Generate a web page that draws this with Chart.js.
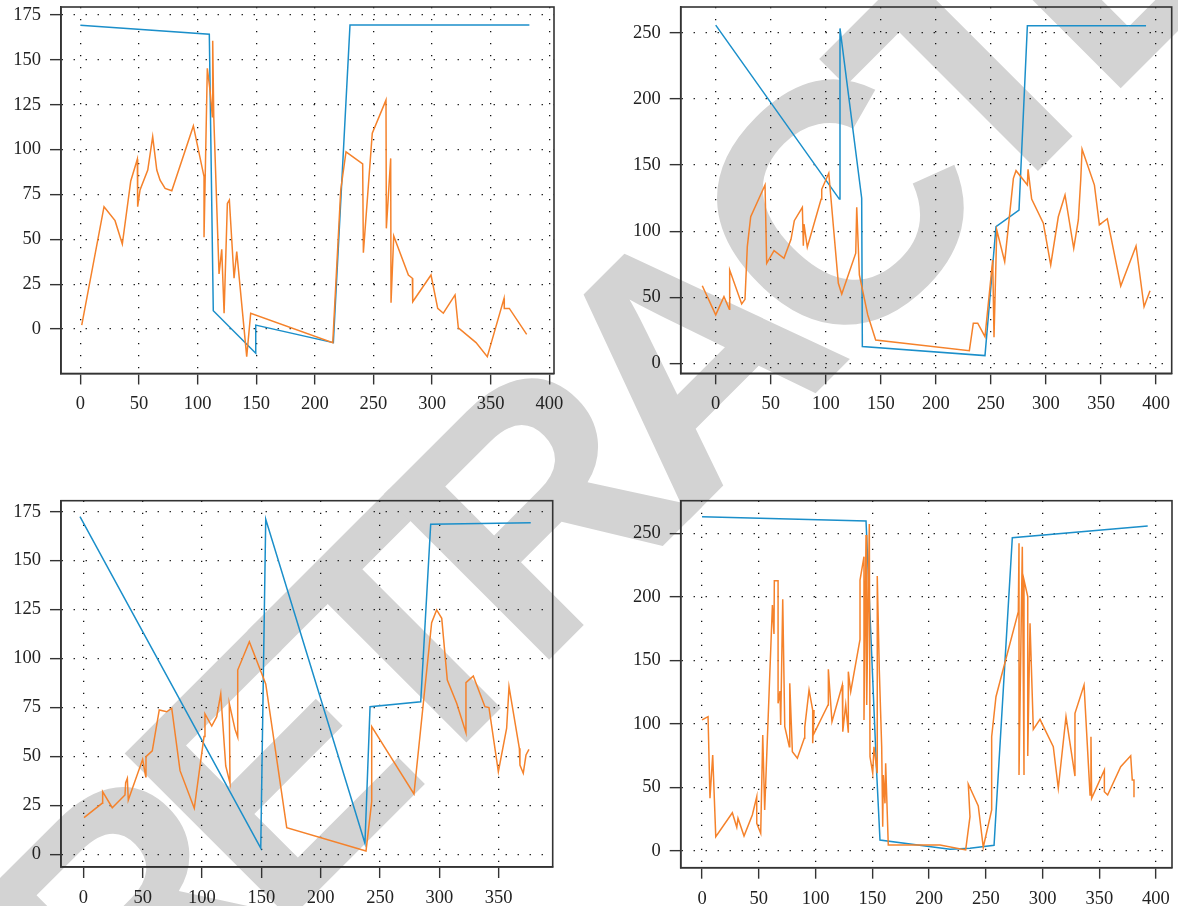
<!DOCTYPE html>
<html>
<head>
<meta charset="utf-8">
<script src="https://cdn.jsdelivr.net/npm/chart.js@4.4.1/dist/chart.umd.min.js"></script>
<style>
  html, body { margin: 0; padding: 0; background: #fff; }
  body { width: 1178px; height: 906px; position: relative; overflow: hidden; }
  .wm {
    position: absolute; left: 674px; top: 368px;
    transform: translate(-50%, -50%) rotate(-45deg);
    font: bold 340px "Liberation Sans", Arial, sans-serif;
    letter-spacing: -34px;
    line-height: 1; color: #d3d3d3; white-space: nowrap; z-index: 0;
  }
  canvas { position: absolute; z-index: 1; }
</style>
</head>
<body>
<div class="wm">RETRACTED</div>
<canvas id="c1" width="590" height="440" style="left:0;top:0"></canvas>
<canvas id="c2" width="578" height="440" style="left:600px;top:0"></canvas>
<canvas id="c3" width="590" height="436" style="left:0;top:470px"></canvas>
<canvas id="c4" width="578" height="436" style="left:600px;top:470px"></canvas>
<script>
// top-left panel
const tlBlueX = [0, 110, 113.4, 149.6, 149.6, 215.8, 230, 383];
const tlBlueY = [169.3, 164.3, 10.2, -13.5, 2.2, -7.6, 169.5, 169.5];
const tlOrangeX = [1.2, 20.2, 29.6, 35.8, 43, 48.6, 48.9, 50.9, 57.5, 61.7, 65.2, 68, 72.3, 78, 96.4, 105.5, 105.5, 108.3, 110.6, 112.6,
  112.9, 113.8, 118.3, 120.6, 122.6, 125.4, 127.1, 131.1, 133.4, 141.9, 145.3, 215.3, 222.1, 226.6, 240.8, 241.4, 249, 260.7, 261, 264.7,
  265, 267.3, 279.8, 283.2, 283.5, 299.1, 304.8, 309.6, 319.6, 322.4, 337.5, 347.1, 361.4, 361.6, 365.9, 380.7];
const tlOrangeY = [2.2, 68.2, 60.4, 47.4, 82.5, 94.6, 68.2, 77.5, 88.6, 107.2, 88.6, 83, 78.4, 77.1, 113.2, 84.9, 51.1, 145.3, 133.2, 118.3,
  160.7, 118.3, 30.7, 44.4, 8.8, 70, 71.9, 28.3, 43.1, -15.4, 8.8, -7.6, 77.5, 98.8, 92, 42.5, 109.1, 127.6, 56.1, 95.1,
  14.7, 51.8, 30.1, 28.3, 15.2, 30.1, 11.5, 8.8, 19, 0.7, -7.6, -15.4, 17.1, 11.5, 11.5, -3];

// top-right panel
const trBlueX = [0, 112.3, 112.9, 132.6, 133.2, 244.6, 254.6, 275.5, 283.1, 390.9];
const trBlueY = [256, 124.3, 253.5, 124.9, 12.6, 5.8, 103.4, 116, 255.5, 255.5];
const trOrangeX = [-12.2, 0, 7.5, 12.4, 12.7, 23.6, 26.6, 28.7, 31.8, 44.8, 46.3, 53, 62, 68.4, 71.4, 78.7, 79.6, 80.2, 83.2, 95.7,
  96.3, 102.7, 111.4, 114.5, 127.2, 128.1, 130.5, 138.1, 145.3, 230.4, 234, 238, 244.6, 251.6, 252.8, 255.3, 262.5, 270.4, 272.8, 283.1,
  283.7, 287, 297.6, 304.3, 311.2, 317.3, 325.2, 329.4, 331.6, 332.8, 344, 348.5, 355.7, 367.9, 381.8, 389.1, 394.5];
const trOrangeY = [58.7, 36.6, 50.4, 40.9, 70.6, 44.9, 48.4, 88.3, 110.9, 134.9, 75.7, 85.2, 79.5, 93.8, 107.9, 118.1, 89, 105.4, 87.8, 124.1,
  131.7, 143.8, 60.5, 52.4, 83.3, 118.1, 66.8, 36.6, 17.6, 9.5, 30.3, 30.3, 20.1, 78.2, 19.7, 100.9, 76.9, 140, 145.8, 134.9,
  146.8, 124.3, 106, 74.4, 110.9, 127.4, 87, 108.5, 139.3, 162, 134.9, 104.7, 109.4, 58.5, 88.8, 42.8, 54.9];

// bottom-left panel
const blBlueX = [-2.8, 149.5, 153.7, 237.3, 241.6, 284.3, 292.7, 377];
const blBlueY = [172.5, 3.1, 171.1, 5.6, 75.4, 77.9, 168.6, 169.4];
const blOrangeX = [0.6, 15.8, 16.3, 24.4, 35.1, 35.7, 37.1, 37.9, 50, 52.6, 52.8, 58.1, 64, 70.3, 74.5, 81.5, 93.5, 101.7, 102.5, 108.2,
  112.4, 115.8, 120, 123.6, 123, 127.8, 130.1, 130.1, 139.9, 153.7, 171.4, 238.2, 243, 243, 278.6, 293.5, 297.7, 302, 306.7, 314.6,
  322.4, 322.4, 328.6, 338.4, 341.8, 349.7, 356.7, 358.7, 367.4, 367.9, 370.7, 373, 375.5];
const blOrangeY = [18.7, 26, 32, 23.8, 30.3, 36.6, 38.8, 27.7, 48.5, 39.6, 49.9, 52.8, 73.7, 72.8, 74.6, 42.7, 23.5, 60.1, 71.7, 65.5,
  70.3, 81.9, 45.1, 36.3, 77.1, 63.9, 59.8, 94.1, 108.6, 87, 13.6, 1.7, 26.9, 65.2, 30.8, 118.3, 124.8, 120.5, 89, 77.1,
  62.1, 87.7, 91.1, 75.4, 74.9, 42.2, 64.4, 85.6, 54.1, 45.6, 41.4, 50.7, 53.6];

// bottom-right panel
const brBlueX = [0, 144.5, 153.9, 156.8, 218.5, 236.1, 257.3, 273.4, 392.7];
const brBlueY = [263.1, 259.7, 61, 8.4, 1.1, 1.9, 4.3, 246.6, 255.8];
const brOrangeX = [0, 5.3, 7, 9.4, 12.1, 26.7, 30.6, 31.7, 37, 44.3, 48.2, 48.2, 51.7, 53.5, 55.2, 62, 63.4, 63.7, 67, 67,
  68.7, 69.3, 71.1, 72.9, 76.9, 77.3, 79.6, 84, 90.1, 90.5, 94.3, 97.5, 97.5, 98.7, 98, 111, 111.3, 114.5, 123.6, 124,
  126.6, 128.9, 128.9, 131, 139.2, 139.2, 142.7, 142.7, 144.5, 145.1, 147.4, 148, 150.4, 151.5, 154.4, 154.4, 156.2, 158.3, 159.2, 159.7,
  161.2, 161.8, 164.1, 209.7, 232.3, 236.1, 234.6, 243.4, 247.8, 255.2, 255.2, 259, 278.7, 279.3, 279.3, 282.2, 283.7, 283.7, 287, 287,
  289, 291.9, 297.8, 309.5, 313.9, 320.7, 328.6, 328.6, 336.6, 341.9, 342.7, 343.3, 354.5, 354.5, 357.4, 368.9, 377.7, 379.1, 380.6, 380.6];
const brOrangeY = [103, 105.6, 41.3, 75.4, 11, 29.9, 18.4, 25.5, 11.6, 28.1, 42.5, 21.6, 13.7, 91.1, 32.1, 193.5, 170.7, 212.7, 212.7, 116.1,
  125.8, 99, 198, 97.7, 81.9, 131.9, 78, 72.8, 88.5, 97.2, 126.6, 110.8, 84.6, 110.8, 91.1, 114.8, 142.9, 101.6, 130.5, 93.7,
  114.8, 92.9, 141, 125.2, 166.5, 213.2, 231.6, 103, 248.7, 114.8, 257.3, 74, 61, 81.9, 61, 216.4, 142.3, 81.9, 18.9, 59.6,
  37.3, 68.8, 4.5, 4.5, 0.6, 26.8, 52.5, 35.2, 2.7, 32.1, 89.8, 121.3, 188.3, 242.1, 59.6, 239.5, 59.6, 213.2, 200.1, 74.6,
  179.1, 95.6, 103.5, 81.9, 49.2, 105.6, 58.8, 108.2, 130.5, 43.9, 89.8, 41.3, 63.6, 46.5, 43.9, 66.2, 74.8, 55.7, 55.7, 42.1];

const BLUE = '#1b8fca';
const ORANGE = '#f5822b';
const tickFont = { family: '"Liberation Serif", "Times New Roman", serif', size: 18.5 };

function pts(xs, ys) {
  return xs.map((x, i) => ({ x: x, y: ys[i] }));
}

// box around the plot area (top and right sides are missing otherwise)
const framePlugin = {
  id: 'frame',
  afterDatasetsDraw(chart) {
    const a = chart.chartArea;
    const ctx = chart.ctx;
    ctx.save();
    ctx.strokeStyle = '#333';
    ctx.lineWidth = 1.6;
    ctx.strokeRect(a.left, a.top, a.right - a.left, a.bottom - a.top);
    ctx.restore();
  }
};

function axis(min, max, step, fit) {
  return {
    type: 'linear', min: min, max: max,
    grid: { color: '#111', lineWidth: 1.3, tickLength: 11, tickColor: '#333', tickWidth: 1.4 },
    border: { display: true, color: '#333', width: 1.6, dash: [1.3, 10.7] },
    ticks: { stepSize: step, includeBounds: false, font: tickFont, color: '#222', padding: 9, maxRotation: 0, autoSkip: false },
    afterFit: fit
  };
}

function panel(id, canvasBox, frame, xr, yr, yStep, blue, orange) {
  const yw = frame.l - canvasBox.left;
  const xh = canvasBox.top + canvasBox.height - frame.b;
  new Chart(document.getElementById(id), {
    type: 'scatter',
    data: {
      datasets: [
        { data: orange, showLine: true, borderColor: ORANGE, borderWidth: 1.5, pointRadius: 0, fill: false },
        { data: blue, showLine: true, borderColor: BLUE, borderWidth: 1.5, pointRadius: 0, fill: false }
      ]
    },
    options: {
      responsive: false,
      animation: false,
      layout: { padding: { left: 0, top: frame.t - canvasBox.top, right: canvasBox.left + canvasBox.width - frame.r, bottom: 0 } },
      plugins: { legend: { display: false }, tooltip: { enabled: false } },
      scales: {
        x: axis(xr[0], xr[1], 50, s => { s.height = xh; s.paddingLeft = 0; s.paddingRight = 0; }),
        y: axis(yr[0], yr[1], yStep, s => { s.width = yw; s.paddingTop = 0; s.paddingBottom = 0; })
      }
    },
    plugins: [framePlugin]
  });
}

panel('c1', { left: 0, top: 0, width: 590, height: 440 }, { l: 61, t: 7, r: 554, b: 373.5 },
  [-16.5, 404], [-24.8, 179.5], 25, pts(tlBlueX, tlBlueY), pts(tlOrangeX, tlOrangeY));
panel('c2', { left: 600, top: 0, width: 578, height: 440 }, { l: 680.7, t: 7, r: 1171.7, b: 373.3 },
  [-31.8, 414.2], [-7.6, 269.7], 50, pts(trBlueX, trBlueY), pts(trOrangeX, trOrangeY));
panel('c3', { left: 0, top: 470, width: 590, height: 436 }, { l: 61, t: 500.7, r: 552.7, b: 867 },
  [-18.8, 395.5], [-6.5, 180.6], 25, pts(blBlueX, blBlueY), pts(blOrangeX, blOrangeY));
panel('c4', { left: 600, top: 470, width: 578, height: 436 }, { l: 680.7, t: 500.7, r: 1172, b: 867.7 },
  [-18.8, 414.1], [-13.4, 275.7], 50, pts(brBlueX, brBlueY), pts(brOrangeX, brOrangeY));
</script>
</body>
</html>
